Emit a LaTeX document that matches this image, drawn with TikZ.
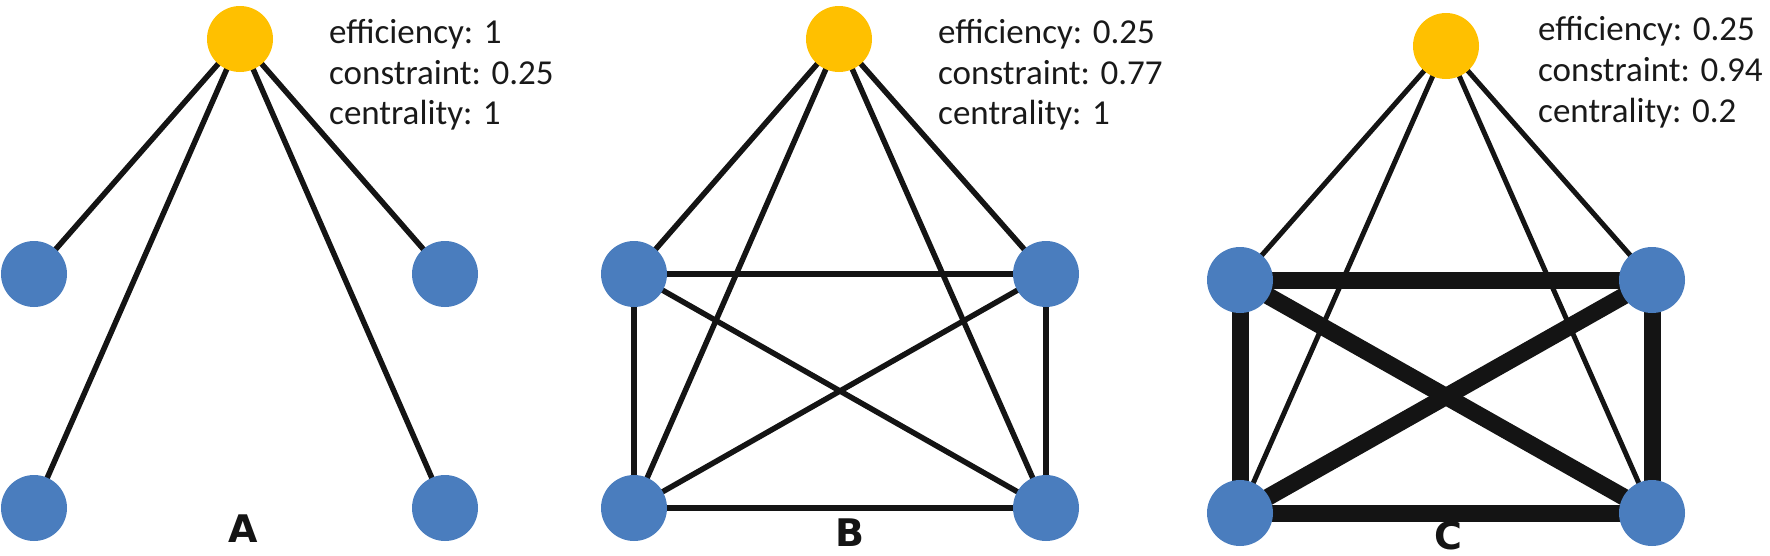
\documentclass[tikz,border=0pt]{standalone}
\usepackage{fontspec}
\setmainfont{Carlito}
\newfontfamily\labfont{DejaVu Sans}
\usetikzlibrary{backgrounds}
\definecolor{gold}{HTML}{FFC000}
\definecolor{nodeblue}{HTML}{4A7DBE}
\definecolor{edgeblack}{HTML}{141414}
\tikzset{
  ego/.style={circle,fill=gold,minimum size=66pt,inner sep=0pt},
  alter/.style={circle,fill=nodeblue,minimum size=66pt,inner sep=0pt},
  tie/.style={draw=edgeblack,line width=5.5pt},
  thintie/.style={draw=edgeblack,line width=5pt},
  thicktie/.style={draw=edgeblack,line width=17pt},
  stat/.style={anchor=base west,inner sep=0pt,font=\fontsize{35}{41}\selectfont,text=black!90},
  panel/.style={anchor=base,inner sep=0pt,font=\labfont\bfseries\fontsize{38}{40}\selectfont,text=black!92}
}
\begin{document}
\begin{tikzpicture}[x=1pt,y=-1pt]
\path[use as bounding box] (0,0) rectangle (1770,555);
% ---------- Panel A ----------
\node[ego] (ay) at (240,39) {};
\node[alter] (al1) at (34,274) {};
\node[alter] (ar1) at (445,274) {};
\node[alter] (al2) at (34,508) {};
\node[alter] (ar2) at (445,508) {};
\begin{pgfonlayer}{background}
\draw[tie] (ay.center) -- (al1.center);
\draw[tie] (ay.center) -- (ar1.center);
\draw[tie] (ay.center) -- (al2.center);
\draw[tie] (ay.center) -- (ar2.center);
\end{pgfonlayer}
\node[stat] (at1) at (329,43) {efficiency: 1};
\node[stat] (at2) at (329,84) {constraint: 0.25};
\node[stat] (at3) at (329,124) {centrality: 1};
\node[panel] (alab) at (243,542) {A};
% ---------- Panel B ----------
\node[ego] (by) at (839,39) {};
\node[alter] (bl1) at (634,274) {};
\node[alter] (br1) at (1046,274) {};
\node[alter] (bl2) at (634,508) {};
\node[alter] (br2) at (1046,508) {};
\begin{pgfonlayer}{background}
\draw[tie] (by.center) -- (bl1.center);
\draw[tie] (by.center) -- (br1.center);
\draw[tie] (by.center) -- (bl2.center);
\draw[tie] (by.center) -- (br2.center);
\draw[tie] (bl1.center) -- (br1.center);
\draw[tie] (bl2.center) -- (br2.center);
\draw[tie] (bl1.center) -- (bl2.center);
\draw[tie] (br1.center) -- (br2.center);
\draw[tie] (bl1.center) -- (br2.center);
\draw[tie] (br1.center) -- (bl2.center);
\end{pgfonlayer}
\node[stat] (bt1) at (938,43) {efficiency: 0.25};
\node[stat] (bt2) at (938,84) {constraint: 0.77};
\node[stat] (bt3) at (938,124) {centrality: 1};
\node[panel] (blab) at (850,546) {B};
% ---------- Panel C ----------
\node[ego] (cy) at (1446,46) {};
\node[alter] (cl1) at (1240,280) {};
\node[alter] (cr1) at (1652,280) {};
\node[alter] (cl2) at (1240,513) {};
\node[alter] (cr2) at (1652,513) {};
\begin{pgfonlayer}{background}
\draw[thintie] (cy.center) -- (cl1.center);
\draw[thintie] (cy.center) -- (cr1.center);
\draw[thintie] (cy.center) -- (cl2.center);
\draw[thintie] (cy.center) -- (cr2.center);
\draw[thicktie] (cl1.center) -- (cr1.center);
\draw[thicktie] (cl2.center) -- (cr2.center);
\draw[thicktie] (cl1.center) -- (cl2.center);
\draw[thicktie] (cr1.center) -- (cr2.center);
\draw[thicktie] (cl1.center) -- (cr2.center);
\draw[thicktie] (cr1.center) -- (cl2.center);
\end{pgfonlayer}
\node[stat] (ct1) at (1538,40) {efficiency: 0.25};
\node[stat] (ct2) at (1538,81) {constraint: 0.94};
\node[stat] (ct3) at (1538,122) {centrality: 0.2};
\node[panel] (clab) at (1448,549) {C};
\end{tikzpicture}
\end{document}
